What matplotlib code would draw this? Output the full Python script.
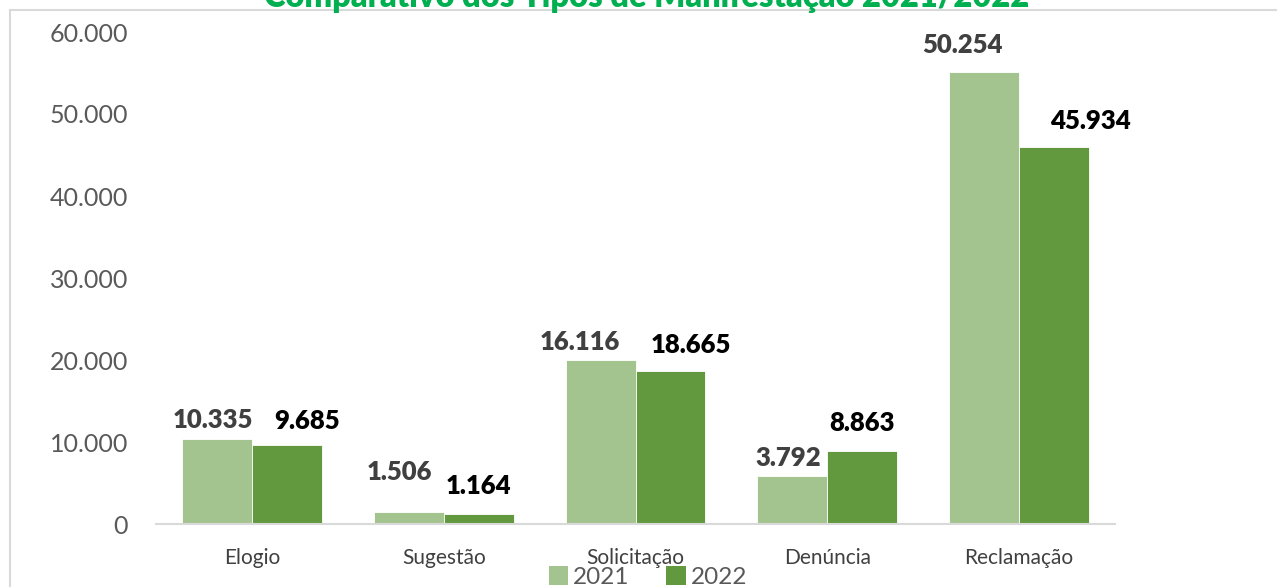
import numpy as np
import matplotlib
matplotlib.use('Agg')
import matplotlib.pyplot as plt
from matplotlib.patches import Rectangle, Patch
from matplotlib.ticker import FuncFormatter

# Data
categories = ['Elogio', 'Sugestão', 'Solicitação', 'Denúncia', 'Reclamação']
years = ['2021', '2022']
bars_2021 = [10335, 1506, 20000, 5850, 55100]      # bar heights as drawn
bars_2022 = [9685, 1164, 18665, 8863, 45934]
labels_2021 = [10335, 1506, 16116, 3792, 50254]    # data labels as printed
labels_2022 = [9685, 1164, 18665, 8863, 45934]
y_ticks = [0, 10000, 20000, 30000, 40000, 50000, 60000]

# label nudges in pixels (the labels were moved by hand in the original)
dx_2021 = [-4, -9, -21, -4, -22]
dy_2021 = [11, 32, 10, 10, 19]
dx_2022 = [20, 0, 20, 0, 36]
dy_2022 = [16, 20, 18, 20, 18]

c_2021 = '#A3C48F'
c_2022 = '#62993E'
font = 'Lato'


def br_thousands(v, pos=None):
    return '{:,.0f}'.format(v).replace(',', '.')


plt.rcParams['font.family'] = [font, 'DejaVu Sans']

fig = plt.figure(figsize=(12.77, 5.87), dpi=100)
ax = fig.add_axes([156 / 1277, 1 - 524 / 587, (1115 - 156) / 1277, (524 - 32) / 587])

x = np.arange(len(categories))
w = 0.364
b1 = ax.bar(x - w / 2, bars_2021, w, color=c_2021, edgecolor='white', linewidth=0.6, label=years[0])
b2 = ax.bar(x + w / 2, bars_2022, w, color=c_2022, edgecolor='white', linewidth=0.6, label=years[1])

for i in range(len(categories)):
    ax.annotate(br_thousands(labels_2021[i]), xy=(x[i] - w / 2, bars_2021[i]),
                xytext=(dx_2021[i], dy_2021[i]), textcoords='offset pixels',
                ha='center', va='baseline', fontsize=18.5, fontweight='heavy', color='#404040')
    ax.annotate(br_thousands(labels_2022[i]), xy=(x[i] + w / 2, bars_2022[i]),
                xytext=(dx_2022[i], dy_2022[i]), textcoords='offset pixels',
                ha='center', va='baseline', fontsize=18.5, fontweight='heavy', color='black')

ax.set_xlim(-0.5, len(categories) - 0.5)
ax.set_ylim(0, 60000)
ax.set_yticks(y_ticks)
ax.yaxis.set_major_formatter(FuncFormatter(br_thousands))
ax.set_xticks(x)
ax.set_xticklabels(categories)
ax.tick_params(axis='y', length=0, pad=20, labelsize=18, labelcolor='#595959')
ax.tick_params(axis='x', length=0, pad=17, labelsize=15, labelcolor='#404040')
for s in ['top', 'right', 'left']:
    ax.spines[s].set_visible(False)
ax.spines['bottom'].set_color('#d9d9d9')
ax.spines['bottom'].set_linewidth(1.5)

# chart border (only top and left visible in the crop)
fig.patches.append(Rectangle((10 / 1277, -0.05), 1.1, 1 - 10 / 587 + 0.05, transform=fig.transFigure,
                             fill=False, edgecolor='#d9d9d9', linewidth=1.5, clip_on=False))

fig.text(647 / 1277, 1 - 7 / 587, 'Comparativo dos Tipos de Manifestação 2021/2022',
         ha='center', va='baseline', fontsize=23.5, fontweight='heavy', color='#00B050')

handles = [Patch(facecolor=c_2021, label=years[0]), Patch(facecolor=c_2022, label=years[1])]
fig.legend(handles=handles, loc='upper center', bbox_to_anchor=(648 / 1277, 1 - 566 / 587),
           ncol=2, frameon=False, fontsize=17.5, labelcolor='#595959',
           handlelength=0.8, handleheight=0.8, handletextpad=0.2, columnspacing=1.5,
           borderpad=0, borderaxespad=0)

plt.savefig('out.png', dpi=100)
